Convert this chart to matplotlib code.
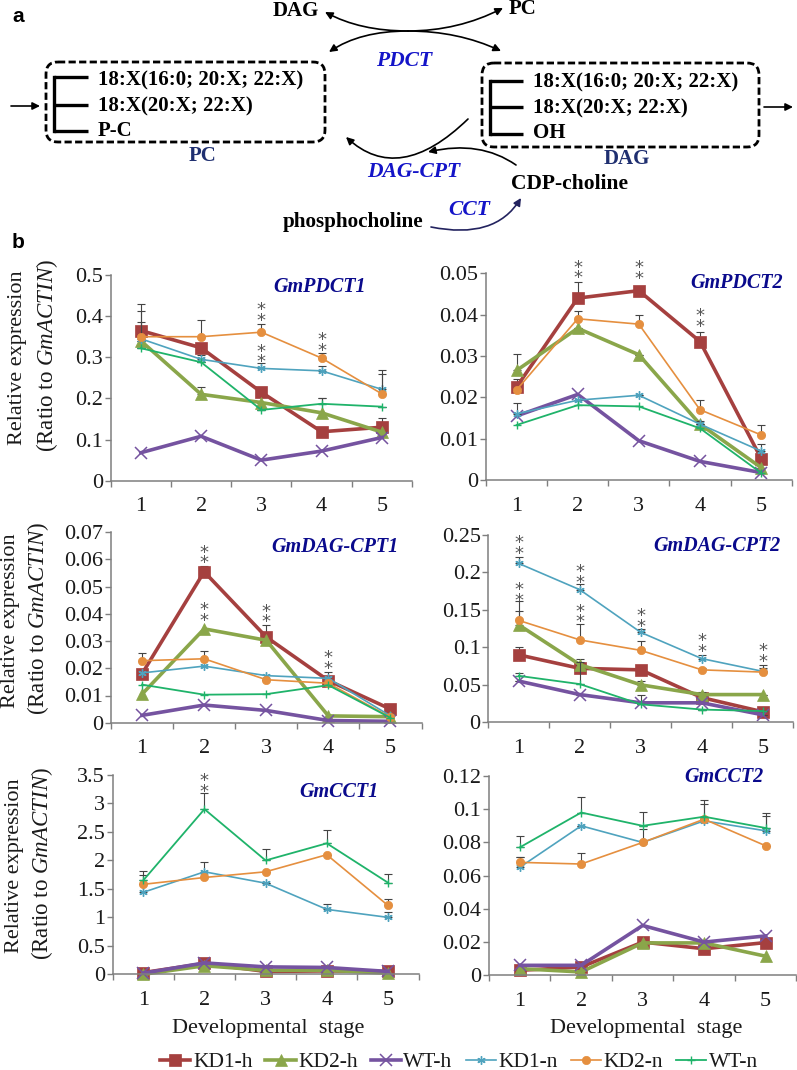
import matplotlib
matplotlib.use("Agg")
import matplotlib.pyplot as plt
from matplotlib.patches import FancyBboxPatch, FancyArrowPatch
from matplotlib.path import Path

plt.rcParams['font.family'] = ['Liberation Serif', 'DejaVu Serif']
plt.rcParams['mathtext.fontset'] = 'custom'
plt.rcParams['mathtext.rm'] = 'Liberation Serif'
plt.rcParams['mathtext.it'] = 'Liberation Serif:italic'

W, H = 797, 1070
STAGES = [1, 2, 3, 4, 5]
SERIES = ["KD1-h", "KD2-h", "WT-h", "KD1-n", "KD2-n", "WT-n"]

PDCT1 = {"KD1-h": [.365, .323, .215, .119, .13], "KD2-h": [.34, .21, .19, .165, .118],
         "WT-h": [.068, .108, .05, .072, .105], "KD1-n": [.345, .295, .273, .267, .222],
         "KD2-n": [.35, .35, .361, .298, .211], "WT-n": [.322, .288, .172, .187, .18]}
PDCT1_ERR = {"KD1-h": [.02, 0, 0, 0, .023], "KD2-h": [0, .017, 0, .035, 0],
             "KD1-n": [.068, .01, .012, .013, .046], "KD2-n": [.079, .04, .019, .012, .049],
             "WT-n": [0, 0, 0, .015, 0]}
PDCT2 = {"KD1-h": [.0225, .044, .0458, .0335, .0052], "KD2-h": [.0265, .0367, .0303, .0135, .003],
         "WT-h": [.0155, .0207, .0095, .0045, .0018], "KD1-n": [.016, .0193, .0205, .0135, .007],
         "KD2-n": [.0218, .039, .0377, .017, .0109], "WT-n": [.0133, .0181, .0178, .0125, .0017]}
PDCT2_ERR = {"KD1-h": [.002, .0038, 0, .0022, 0], "KD2-h": [.004, 0, 0, 0, 0],
             "KD1-n": [.0026, 0, 0, .0007, .0018], "KD2-n": [0, .0018, .0023, .0023, .0024]}
CPT1 = {"KD1-h": [.018, .0555, .0315, .0155, .005], "KD2-h": [.0105, .0345, .0303, .0025, .0022],
        "WT-h": [.0027, .0065, .0045, .0008, .0005], "KD1-n": [.0183, .0208, .0173, .0163, .0025],
        "KD2-n": [.0228, .0235, .0158, .0145, .002], "WT-n": [.014, .0103, .0105, .0138, .0018]}
CPT1_ERR = {"KD1-h": [0, .002, .0045, .0032, 0], "KD2-n": [.0029, .0027, 0, 0, 0]}
CPT2 = {"KD1-h": [.09, .072, .07, .033, .014], "KD2-h": [.13, .077, .05, .037, .037],
        "WT-h": [.055, .037, .026, .026, .01], "KD1-n": [.212, .177, .12, .085, .068],
        "KD2-n": [.136, .11, .096, .07, .067], "WT-n": [.062, .051, .024, .017, .015]}
CPT2_ERR = {"KD1-h": [.01, 0, 0, 0, 0], "KD2-h": [.018, .007, .005, .004, 0],
            "WT-h": [0, 0, .011, 0, 0], "KD1-n": [.008, .007, .005, .005, .005],
            "KD2-n": [.026, .021, .012, .003, .009], "WT-n": [.004, .029, 0, 0, 0]}
CCT1 = {"KD1-h": [.03, .19, .05, .06, .05], "KD2-h": [.0, .15, .07, .07, .02],
        "WT-h": [.02, .2, .13, .12, .05], "KD1-n": [1.44, 1.8, 1.6, 1.14, 1.0],
        "KD2-n": [1.58, 1.7, 1.8, 2.1, 1.21], "WT-n": [1.65, 2.9, 2.0, 2.3, 1.61]}
CCT1_ERR = {"KD1-n": [.31, .18, 0, .1, .1], "KD2-n": [0, 0, 0, 0, .11],
            "WT-n": [.16, .28, .2, .23, .15]}
CCT2 = {"KD1-h": [.003, .005, .02, .016, .0197], "KD2-h": [.004, .002, .0195, .0195, .0115],
        "WT-h": [.006, .006, .03, .02, .0237], "KD1-n": [.065, .09, .08, .093, .087],
        "KD2-n": [.068, .067, .08, .094, .078], "WT-n": [.077, .098, .09, .0955, .0887]}
CCT2_ERR = {"KD1-n": [.006, 0, .008, .01, .009], "KD2-n": [.003, .0065, 0, 0, 0],
            "WT-n": [.007, .0095, .0085, .01, .009]}

STARS_PDCT1 = [(3, .408), (3, .308), (4, .336)]
STARS_PDCT2 = [(2, .0508), (3, .0506), (4, .039)]
STARS_CPT1 = [(2, .0617), (2, .0405), (3, .04), (4, .0228)]
STARS_CPT2 = [(1, .2358), (1, .173), (2, .1975), (2, .1446), (3, .1388), (4, .1053), (5, .092)]
STARS_CCT1 = [(2, 3.35)]
STARS_CCT2 = []

YT_PDCT1 = ["0", "0.1", "0.2", "0.3", "0.4", "0.5"]
YT_PDCT2 = ["0", "0.01", "0.02", "0.03", "0.04", "0.05"]
YT_CPT1 = ["0", "0.01", "0.02", "0.03", "0.04", "0.05", "0.06", "0.07"]
YT_CPT2 = ["0", "0.05", "0.1", "0.15", "0.2", "0.25"]
YT_CCT1 = ["0", "0.5", "1", "1.5", "2", "2.5", "3", "3.5"]
YT_CCT2 = ["0", "0.02", "0.04", "0.06", "0.08", "0.1", "0.12"]

STYLE = {
    "KD1-h": dict(color="#A5403F", marker="s", lw=2.6, ms=8.5, mew=0.5),
    "KD2-h": dict(color="#8AA64A", marker="^", lw=2.6, ms=9, mew=0.5),
    "WT-h": dict(color="#7553A0", marker="x", lw=2.6, ms=8.5, mew=1.1),
    "KD1-n": dict(color="#4FA3BE", marker=(6, 2, 0), lw=1.2, ms=6, mew=1.0),
    "KD2-n": dict(color="#E58F3F", marker="o", lw=1.2, ms=6, mew=0.5),
    "WT-n": dict(color="#1FB36A", marker="+", lw=1.3, ms=6, mew=1.0),
}
AXIS_GRAY = "#7F7F7F"
TITLE_BLUE = "#0A0A8C"

fig = plt.figure(figsize=(W / 100, H / 100), dpi=100)

# ---------- overlay for the pathway diagram (pixel coordinates) ----------
ov = fig.add_axes([0, 0, 1, 1], zorder=5)
ov.set_xlim(0, W); ov.set_ylim(H, 0); ov.axis("off"); ov.patch.set_alpha(0)

def T(x, y, s, **k):
    k.setdefault("ha", "center"); k.setdefault("va", "center")
    ov.text(x, y, s, **k)

def arrow(a, b, color="black", lw=1.2):
    ov.add_patch(FancyArrowPatch(a, b, arrowstyle="-|>", mutation_scale=11, lw=lw,
                                 color=color, shrinkA=0, shrinkB=0))

def curve(a, c, b, color="black", lw=1.2):
    p = Path([a, c, b], [Path.MOVETO, Path.CURVE3, Path.CURVE3])
    ov.add_patch(FancyArrowPatch(path=p, arrowstyle="-|>", mutation_scale=11, lw=lw,
                                 color=color, shrinkA=0, shrinkB=0,
                                 transform=ov.transData))

T(18, 16, "a", fontsize=15, fontweight="bold", family="Liberation Sans")
T(18, 243, "b", fontsize=15, fontweight="bold", family="Liberation Sans")
BIG = 15
T(296, 11, "DAG", fontsize=BIG, fontweight="bold")
T(523, 9, "PC", fontsize=BIG, fontweight="bold")
curve((408, 31), (360, 31), (325, 12))
curve((408, 31), (458, 31), (503, 8))
curve((408, 31), (360, 31), (329, 52))
curve((408, 31), (458, 31), (501, 51))
T(404, 61, "PDCT", fontsize=15.5, fontweight="bold", style="italic", color="#1414C8")

for (x0, y0, x1, y1) in [(46, 62, 325, 142), (482, 63, 759, 147)]:
    ov.add_patch(FancyBboxPatch((x0, y0), x1 - x0, y1 - y0, boxstyle="round,pad=0,rounding_size=12",
                                fill=False, ec="black", lw=2.0, ls=(0, (2.6, 1.2))))
for (xv, ys, xe) in [(54, (77, 105, 131), 88), (490, (81, 107, 134), 523)]:
    ov.plot([xv, xv], [ys[0], ys[2]], color="black", lw=2.4, solid_capstyle="projecting")
    for y in ys:
        ov.plot([xv, xe], [y, y], color="black", lw=2.4, solid_capstyle="butt")

for (x, ys, last) in [(98, (80, 106, 131), "P-C"), (533, (82, 108, 133), "OH")]:
    T(x, ys[0], "18:X(16:0; 20:X; 22:X)", fontsize=BIG, fontweight="bold", ha="left")
    T(x, ys[1], "18:X(20:X; 22:X)", fontsize=BIG, fontweight="bold", ha="left")
    T(x, ys[2], last, fontsize=BIG, fontweight="bold", ha="left")
T(203, 156, "PC", fontsize=15, fontweight="bold", color="#1F2F70")
T(627, 159, "DAG", fontsize=15, fontweight="bold", color="#1F2F70")
arrow((11, 106), (40, 106))
arrow((764, 107), (793, 107))
curve((468, 119), (399, 186), (346, 137))
curve((516, 165), (480, 140), (428, 152))
T(414, 172, "DAG-CPT", fontsize=15.5, fontweight="bold", style="italic", color="#1414C8")
T(570, 184, "CDP-choline", fontsize=15.5, fontweight="bold")
T(469, 210, "CCT", fontsize=15.5, fontweight="bold", style="italic", color="#1414C8")
T(353, 222, "phosphocholine", fontsize=15.2, fontweight="bold")
curve((431, 227), (495, 240), (521, 198), color="#23235F")

# ---------- panels ----------
def panel(box, vals, errs, stars, yticks, ylim_top):
    l, r, t, b = box
    ax = fig.add_axes([l / W, 1 - b / H, (r - l) / W, (b - t) / H])
    handles = []
    for name in SERIES:
        e = errs.get(name)
        st = STYLE[name]
        if e:
            ax.errorbar(STAGES, vals[name], yerr=[[0] * 5, e], fmt="none", ecolor="#444444",
                        elinewidth=0.8, capsize=3, capthick=0.8, clip_on=False)
        h, = ax.plot(STAGES, vals[name], label=name, clip_on=False, color=st["color"],
                     marker=st["marker"], lw=st["lw"], ms=st["ms"], mew=st["mew"],
                     mec=st["color"], mfc=st["color"])
        handles.append(h)
    ax.set_xlim(0.5, 5.5)
    ax.set_ylim(0, ylim_top)
    ax.set_xticks([0.5, 1.5, 2.5, 3.5, 4.5, 5.5])
    ax.set_xticklabels([])
    ax.set_xticks(STAGES, minor=True)
    ax.set_xticklabels([str(s) for s in STAGES], minor=True, fontsize=16, color="#1a1a1a")
    ax.tick_params(axis="x", which="minor", length=0, pad=12)
    ax.tick_params(axis="x", which="major", length=4.5, color=AXIS_GRAY, width=1)
    n = len(yticks)
    ax.set_yticks([ylim_top * i / (n - 1) for i in range(n)])
    ax.set_yticklabels(yticks, fontsize=16, color="#1a1a1a")
    ax.tick_params(axis="y", length=4.5, color=AXIS_GRAY, width=1, pad=1)
    for s in ("top", "right"):
        ax.spines[s].set_visible(False)
    for s in ("left", "bottom"):
        ax.spines[s].set_color(AXIS_GRAY)
        ax.spines[s].set_linewidth(1.1)
    ax.patch.set_alpha(0)
    for (x, y) in stars:
        ax.annotate("*\n*", xy=(x, y), xytext=(0, -3), textcoords="offset pixels", ha="center",
                    va="center", fontsize=13, color="#555555", family="DejaVu Sans",
                    linespacing=0.48, annotation_clip=False)
    return handles

handles = panel((110.7, 412, 275, 480.7), PDCT1, PDCT1_ERR, STARS_PDCT1, YT_PDCT1, 0.5)
panel((486, 791.7, 273.3, 480), PDCT2, PDCT2_ERR, STARS_PDCT2, YT_PDCT2, 0.05)
panel((111, 421.5, 532.3, 722.7), CPT1, CPT1_ERR, STARS_CPT1, YT_CPT1, 0.07)
panel((488.3, 793.3, 535, 722.3), CPT2, CPT2_ERR, STARS_CPT2, YT_CPT2, 0.25)
panel((112.7, 418.5, 775, 974.3), CCT1, CCT1_ERR, STARS_CCT1, YT_CCT1, 3.5)
panel((489, 796.3, 776, 975.3), CCT2, CCT2_ERR, STARS_CCT2, YT_CCT2, 0.12)

# panel titles
for (x, y, s) in [(320, 287, "GmPDCT1"), (737, 283, "GmPDCT2"), (335, 547, "GmDAG-CPT1"),
                  (717, 546, "GmDAG-CPT2"), (339, 792, "GmCCT1"), (724, 777, "GmCCT2")]:
    T(x, y, s, fontsize=14.5, fontweight="bold", style="italic", color=TITLE_BLUE)

# y labels
for (x1, x2, y) in [(18, 47, 358), (11, 38, 621), (15, 42, 866)]:
    T(x1, y, "Relative expression", fontsize=16, rotation=90, color="#1a1a1a")
    T(x2, y - 2, r"(Ratio to $\mathit{GmACTIN}$)", fontsize=16.5, rotation=90, color="#1a1a1a")

# x labels
T(268, 1028, "Developmental  stage", fontsize=16, color="#1a1a1a")
T(646, 1028, "Developmental  stage", fontsize=16, color="#1a1a1a")

fig.legend(handles=handles, loc="center", bbox_to_anchor=(459 / W, 1 - 1062 / H), ncol=6,
           frameon=False, fontsize=15.5, handlelength=1.4, handletextpad=0.12,
           columnspacing=0.6, borderpad=0, labelcolor="#1a1a1a")

fig.savefig("out.png", dpi=100)
